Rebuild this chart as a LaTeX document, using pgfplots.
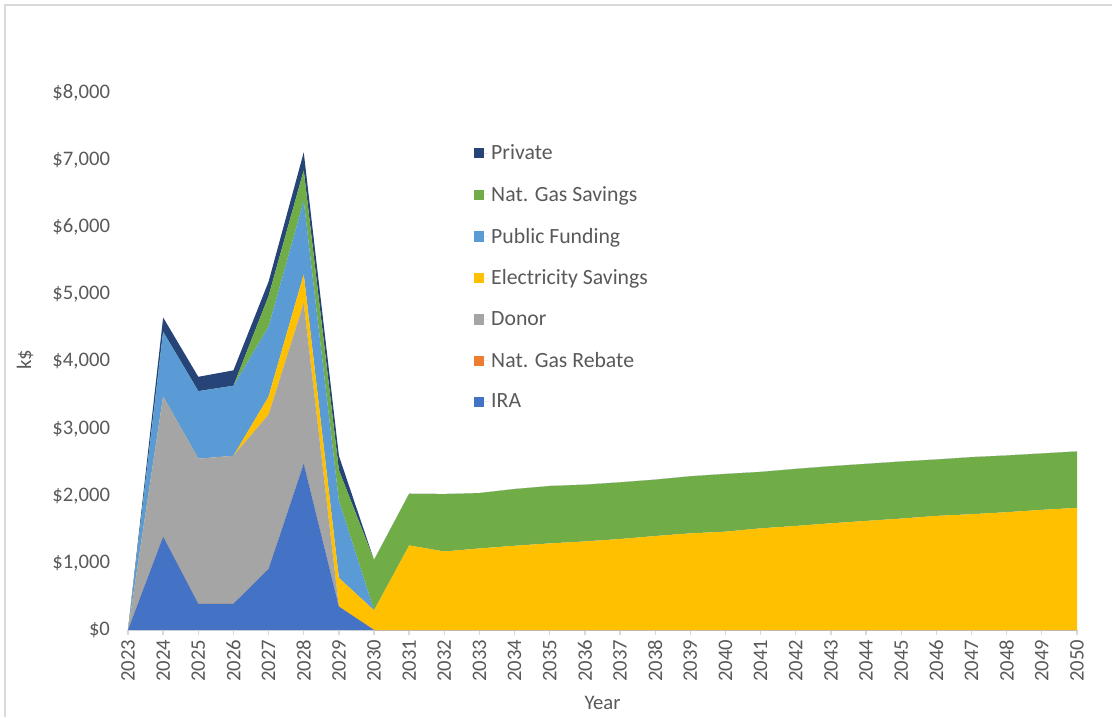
\documentclass[border=0pt]{standalone}
\usepackage{pgfplots}
\usepackage{pgfplotstable}
\usepackage{fontspec}
\setmainfont{Carlito}
\pgfplotsset{compat=1.18}
\definecolor{cIRA}{HTML}{4472C4}
\definecolor{cReb}{HTML}{ED7D31}
\definecolor{cDon}{HTML}{A5A5A5}
\definecolor{cEle}{HTML}{FFC000}
\definecolor{cPub}{HTML}{5B9BD5}
\definecolor{cGas}{HTML}{70AD47}
\definecolor{cPri}{HTML}{264478}
\definecolor{txt}{HTML}{595959}
\definecolor{axl}{HTML}{D9D9D9}
\pgfplotstableread{
year IRA Reb Donor Elec Public Gas Private
2023 0 0 0 0 0 0 0
2024 1391 0 2087 0 963 0 214
2025 391 0 2161 0 1006 0 214
2026 391 0 2204 0 1043 0 230
2027 910 0 2300 268 1043 455 214
2028 2477 0 2392 428 1097 455 267
2029 348 0 0 428 1150 455 214
2030 0 0 0 294 0 749 0
2031 0 0 0 1260 0 770 0
2032 0 0 0 1170 0 855 0
2033 0 0 0 1215 0 825 0
2034 0 0 0 1255 0 845 0
2035 0 0 0 1290 0 855 0
2036 0 0 0 1320 0 845 0
2037 0 0 0 1355 0 845 0
2038 0 0 0 1400 0 840 0
2039 0 0 0 1440 0 850 0
2040 0 0 0 1465 0 860 0
2041 0 0 0 1515 0 840 0
2042 0 0 0 1550 0 850 0
2043 0 0 0 1590 0 850 0
2044 0 0 0 1625 0 850 0
2045 0 0 0 1660 0 850 0
2046 0 0 0 1700 0 840 0
2047 0 0 0 1725 0 850 0
2048 0 0 0 1755 0 845 0
2049 0 0 0 1790 0 840 0
2050 0 0 0 1820 0 840 0
}\data
\begin{document}
\begin{tikzpicture}[x=0.75pt,y=0.75pt]
\useasboundingbox (-128,-87) rectangle (984,630);
\draw[axl,line width=1.2pt] (-123,-87) -- (-123,625) -- (984,625);
\begin{axis}[
  at={(0,0)}, anchor=south west,
  scale only axis,
  width=711.75pt, height=402.75pt,
  xmin=2023, xmax=2050, ymin=0, ymax=8000,
  stack plots=y,
  axis x line*=bottom, axis y line*=left,
  x axis line style={draw=axl, line width=1pt},
  y axis line style={draw=none},
  xtick={2023,...,2050},
  ytick={0,1000,...,8000},
  yticklabels={\$0,{\$1,000},{\$2,000},{\$3,000},{\$4,000},{\$5,000},{\$6,000},{\$7,000},{\$8,000}},
  tick align=outside,
  xtick style={draw=axl, line width=1pt},
  major tick length=4pt,
  ytick style={draw=none},
  /pgf/number format/assume math mode=true,
  /pgf/number format/1000 sep={},
  tick label style={font=\fontsize{15.5}{18}\selectfont, text=txt},
  xticklabel style={rotate=90, anchor=east},
  yticklabel style={xshift=-6pt},
  xlabel={Year}, ylabel={k\$},
  label style={font=\fontsize{15.5}{18}\selectfont, text=txt},
  xlabel style={at={(axis description cs:0.5,-0.136)}, anchor=center},
  ylabel style={at={(axis description cs:-0.1085,0.503)}, anchor=center, rotate=0},
  legend style={at={(axis description cs:0.36,0.914)}, anchor=north west, draw=none, fill=none,
    font=\fontsize{16.3}{19}\selectfont, text=txt, row sep=14.5pt},
  legend cell align=left,
  reverse legend,
  legend image code/.code={\fill[#1] (0pt,-3.8pt) rectangle (7.5pt,3.8pt); \path (0pt,0pt) -- (11pt,0pt);},
  every axis plot/.append style={draw=none},
]
\addplot[fill=cIRA] table[x=year,y=IRA]{\data} \closedcycle;
\addlegendentry{IRA}
\addplot[fill=cReb] table[x=year,y=Reb]{\data} \closedcycle;
\addlegendentry{Nat. Gas Rebate}
\addplot[fill=cDon] table[x=year,y=Donor]{\data} \closedcycle;
\addlegendentry{Donor}
\addplot[fill=cEle] table[x=year,y=Elec]{\data} \closedcycle;
\addlegendentry{Electricity Savings}
\addplot[fill=cPub] table[x=year,y=Public]{\data} \closedcycle;
\addlegendentry{Public Funding}
\addplot[fill=cGas] table[x=year,y=Gas]{\data} \closedcycle;
\addlegendentry{Nat. Gas Savings}
\addplot[fill=cPri] table[x=year,y=Private]{\data} \closedcycle;
\addlegendentry{Private}
\end{axis}
\end{tikzpicture}
\end{document}
